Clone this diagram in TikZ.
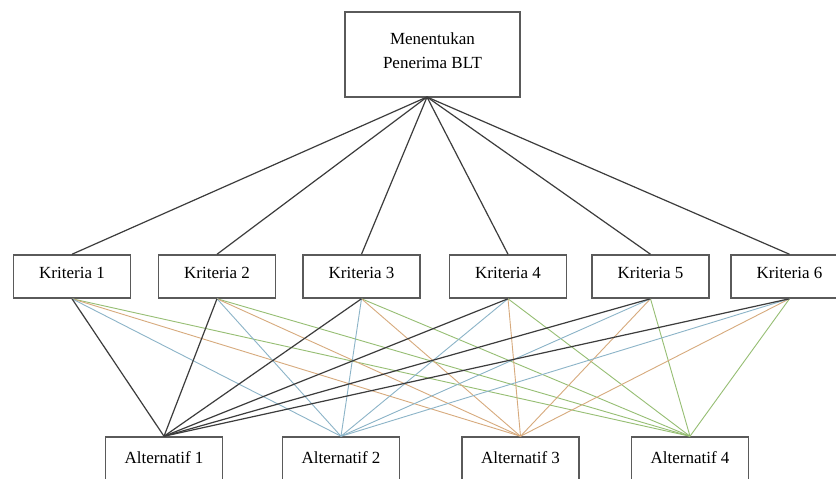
\documentclass[tikz,border=0pt]{standalone}
\usepackage{fontspec}
\setmainfont{Liberation Serif}
\definecolor{boxgray}{RGB}{90,90,90}
\definecolor{lnblack}{RGB}{60,60,60}
\definecolor{lnblue}{RGB}{140,180,200}
\definecolor{lnorange}{RGB}{215,170,125}
\definecolor{lngreen}{RGB}{150,190,115}
\begin{document}
\begin{tikzpicture}[x=1pt,y=-1pt,
  basebox/.style={draw=boxgray, line width=1.5pt, fill=white, inner sep=0pt,
    font=\fontsize{17}{24}\selectfont},
  kbox/.style={basebox, minimum width=117pt, minimum height=43pt, text height=12pt, text depth=9pt},
  abox/.style={basebox, minimum width=117pt, minimum height=50pt, text height=12pt, text depth=9pt},
  blk/.style={draw=lnblack, line width=1.2pt},
  cblue/.style={draw=lnblue, line width=0.9pt},
  corange/.style={draw=lnorange, line width=0.9pt},
  cgreen/.style={draw=lngreen, line width=0.9pt}]
\useasboundingbox (0,0) rectangle (836,479);
\clip (0,0) rectangle (836,479);
\fill[white] (0,0) rectangle (836,479);

\coordinate (tp) at (427,97);
\node[basebox, minimum width=175pt, minimum height=85pt, align=center, text depth=8pt] (goal) at (432.5,54.5) {Menentukan\\Penerima BLT};

\node[kbox] (k1) at (72,276.5) {Kriteria 1};
\node[kbox] (k2) at (217,276.5) {Kriteria 2};
\node[kbox] (k3) at (361.5,276.5) {Kriteria 3};
\node[kbox] (k4) at (508,276.5) {Kriteria 4};
\node[kbox] (k5) at (650.5,276.5) {Kriteria 5};
\node[kbox] (k6) at (789.5,276.5) {Kriteria 6};

\node[abox] (a1) at (164,462) {Alternatif 1};
\node[abox] (a2) at (341,462) {Alternatif 2};
\node[abox] (a3) at (520.5,462) {Alternatif 3};
\node[abox] (a4) at (690,462) {Alternatif 4};

\foreach \k in {1,...,6} {
  \draw[blk] (tp) -- (k\k.north);
}
\foreach \k in {1,...,6} {
  \draw[cgreen] (k\k.south) -- (a4.north);
  \draw[corange] (k\k.south) -- (a3.north);
  \draw[cblue] (k\k.south) -- (a2.north);
}
\foreach \k in {1,...,6} {
  \draw[blk] (k\k.south) -- (a1.north);
}
\end{tikzpicture}
\end{document}
